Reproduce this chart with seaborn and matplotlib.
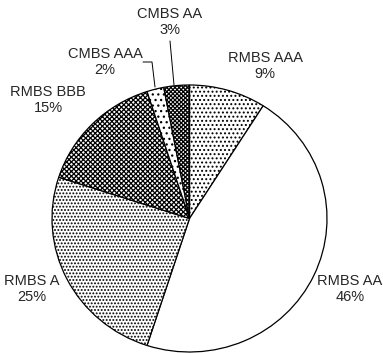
import matplotlib
matplotlib.use("Agg")
import matplotlib.pyplot as plt
import seaborn as sns

# Daten
labels = ["RMBS AAA", "RMBS AA", "RMBS A", "RMBS BBB", "CMBS AAA", "CMBS AA"]
shares = [9, 46, 25, 15, 2, 3]

# Muster je Segment
hatches = ["....", "", ".....", "xxxxxxx", "...", "xxxxxxxx"]

# Textpositionen der Beschriftungen (Pixel, y nach unten)
label_pos = [(265, 66), (350, 289), (32, 289), (48, 100), (105, 62), (170, 22)]

sns.set_style("white")
plt.rcParams["font.family"] = ["Liberation Sans", "DejaVu Sans"]
plt.rcParams["hatch.linewidth"] = 0.9

W, H = 383, 353
# Excel-Torte ist leicht breiter als hoch
sx = 137.5 / 133.5

fig = plt.figure(figsize=(W / 100, H / 100), dpi=100)
ax = fig.add_axes([0, 0, 1, 1])

wedges, _ = ax.pie(shares, startangle=90, counterclock=False,
                   center=(189.5 / sx, H - 218.5), radius=133.5,
                   colors=["white"] * len(shares),
                   wedgeprops=dict(edgecolor="black", linewidth=0.9))
for w, h in zip(wedges, hatches):
    w.set_hatch(h)

for lab, val, (x, y) in zip(labels, shares, label_pos):
    ax.text(x / sx, H - y, f"{lab}\n{val}%", ha="center", va="center",
            fontsize=10.5, linespacing=1.25)

# Hinweislinien für die kleinen CMBS-Segmente
ax.plot([143 / sx, 152 / sx, 155 / sx], [H - 62, H - 62, H - 87], color="black", lw=0.7)
ax.plot([170 / sx, 174 / sx], [H - 41, H - 85], color="black", lw=0.7)

ax.set_aspect("auto")
ax.set_xlim(0, W / sx)
ax.set_ylim(0, H)
ax.axis("off")
fig.savefig("out.png", dpi=100)
